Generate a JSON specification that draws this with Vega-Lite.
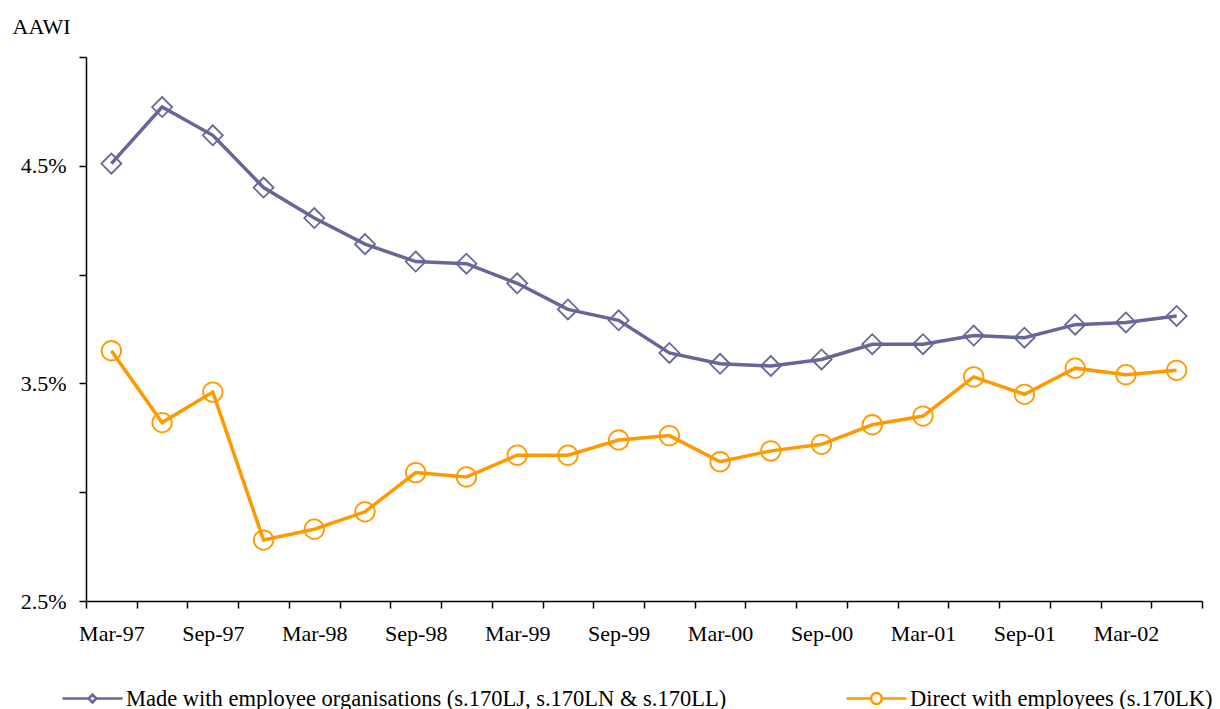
{
  "$schema": "https://vega.github.io/schema/vega-lite/v6.json",
  "width": 1116,
  "height": 544,
  "autosize": {"type": "none"},
  "padding": {"left": 86, "top": 57, "right": 18, "bottom": 108},
  "background": "white",
  "config": {
    "view": {"stroke": null},
    "font": "Liberation Serif",
    "axis": {
      "labelFont": "Liberation Serif",
      "labelFontSize": 22,
      "labelColor": "black",
      "titleFont": "Liberation Serif",
      "titleFontSize": 22,
      "titleFontWeight": "normal",
      "titleColor": "black",
      "domainColor": "black",
      "domainWidth": 1.5,
      "tickColor": "black",
      "tickWidth": 1.5,
      "tickSize": 7,
      "grid": false
    },
    "legend": {
      "labelFont": "Liberation Serif",
      "labelFontSize": 22.5,
      "labelColor": "black",
      "labelLimit": 1000
    }
  },
  "data": {
    "values": [
      {"q": "Mar-97", "s": "Made with employee organisations (s.170LJ, s.170LN & s.170LL)", "v": 4.51},
      {"q": "Jun-97", "s": "Made with employee organisations (s.170LJ, s.170LN & s.170LL)", "v": 4.77},
      {"q": "Sep-97", "s": "Made with employee organisations (s.170LJ, s.170LN & s.170LL)", "v": 4.64},
      {"q": "Dec-97", "s": "Made with employee organisations (s.170LJ, s.170LN & s.170LL)", "v": 4.40},
      {"q": "Mar-98", "s": "Made with employee organisations (s.170LJ, s.170LN & s.170LL)", "v": 4.26},
      {"q": "Jun-98", "s": "Made with employee organisations (s.170LJ, s.170LN & s.170LL)", "v": 4.14},
      {"q": "Sep-98", "s": "Made with employee organisations (s.170LJ, s.170LN & s.170LL)", "v": 4.06},
      {"q": "Dec-98", "s": "Made with employee organisations (s.170LJ, s.170LN & s.170LL)", "v": 4.05},
      {"q": "Mar-99", "s": "Made with employee organisations (s.170LJ, s.170LN & s.170LL)", "v": 3.96},
      {"q": "Jun-99", "s": "Made with employee organisations (s.170LJ, s.170LN & s.170LL)", "v": 3.84},
      {"q": "Sep-99", "s": "Made with employee organisations (s.170LJ, s.170LN & s.170LL)", "v": 3.79},
      {"q": "Dec-99", "s": "Made with employee organisations (s.170LJ, s.170LN & s.170LL)", "v": 3.64},
      {"q": "Mar-00", "s": "Made with employee organisations (s.170LJ, s.170LN & s.170LL)", "v": 3.59},
      {"q": "Jun-00", "s": "Made with employee organisations (s.170LJ, s.170LN & s.170LL)", "v": 3.58},
      {"q": "Sep-00", "s": "Made with employee organisations (s.170LJ, s.170LN & s.170LL)", "v": 3.61},
      {"q": "Dec-00", "s": "Made with employee organisations (s.170LJ, s.170LN & s.170LL)", "v": 3.68},
      {"q": "Mar-01", "s": "Made with employee organisations (s.170LJ, s.170LN & s.170LL)", "v": 3.68},
      {"q": "Jun-01", "s": "Made with employee organisations (s.170LJ, s.170LN & s.170LL)", "v": 3.72},
      {"q": "Sep-01", "s": "Made with employee organisations (s.170LJ, s.170LN & s.170LL)", "v": 3.71},
      {"q": "Dec-01", "s": "Made with employee organisations (s.170LJ, s.170LN & s.170LL)", "v": 3.77},
      {"q": "Mar-02", "s": "Made with employee organisations (s.170LJ, s.170LN & s.170LL)", "v": 3.78},
      {"q": "Jun-02", "s": "Made with employee organisations (s.170LJ, s.170LN & s.170LL)", "v": 3.81},
      {"q": "Mar-97", "s": "Direct with employees (s.170LK)", "v": 3.65},
      {"q": "Jun-97", "s": "Direct with employees (s.170LK)", "v": 3.32},
      {"q": "Sep-97", "s": "Direct with employees (s.170LK)", "v": 3.46},
      {"q": "Dec-97", "s": "Direct with employees (s.170LK)", "v": 2.78},
      {"q": "Mar-98", "s": "Direct with employees (s.170LK)", "v": 2.83},
      {"q": "Jun-98", "s": "Direct with employees (s.170LK)", "v": 2.91},
      {"q": "Sep-98", "s": "Direct with employees (s.170LK)", "v": 3.09},
      {"q": "Dec-98", "s": "Direct with employees (s.170LK)", "v": 3.07},
      {"q": "Mar-99", "s": "Direct with employees (s.170LK)", "v": 3.17},
      {"q": "Jun-99", "s": "Direct with employees (s.170LK)", "v": 3.17},
      {"q": "Sep-99", "s": "Direct with employees (s.170LK)", "v": 3.24},
      {"q": "Dec-99", "s": "Direct with employees (s.170LK)", "v": 3.26},
      {"q": "Mar-00", "s": "Direct with employees (s.170LK)", "v": 3.14},
      {"q": "Jun-00", "s": "Direct with employees (s.170LK)", "v": 3.19},
      {"q": "Sep-00", "s": "Direct with employees (s.170LK)", "v": 3.22},
      {"q": "Dec-00", "s": "Direct with employees (s.170LK)", "v": 3.31},
      {"q": "Mar-01", "s": "Direct with employees (s.170LK)", "v": 3.35},
      {"q": "Jun-01", "s": "Direct with employees (s.170LK)", "v": 3.53},
      {"q": "Sep-01", "s": "Direct with employees (s.170LK)", "v": 3.45},
      {"q": "Dec-01", "s": "Direct with employees (s.170LK)", "v": 3.57},
      {"q": "Mar-02", "s": "Direct with employees (s.170LK)", "v": 3.54},
      {"q": "Jun-02", "s": "Direct with employees (s.170LK)", "v": 3.56}
    ]
  },
  "encoding": {
    "x": {
      "field": "q",
      "type": "ordinal",
      "sort": null,
      "scale": {"type": "band", "paddingInner": 0, "paddingOuter": 0},
      "axis": {
        "title": null,
        "tickBand": "extent",
        "labelAngle": 0,
        "labelPadding": 15,
        "labelExpr": "test(/^(Mar|Sep)/, datum.value) ? datum.value : ''"
      }
    },
    "y": {
      "field": "v",
      "type": "quantitative",
      "scale": {"domain": [2.5, 5.0], "nice": false, "zero": false},
      "axis": {
        "title": "AAWI",
        "titleAngle": 0,
        "titleAlign": "left",
        "titleBaseline": "alphabetic",
        "titleX": -74,
        "titleY": -24,
        "values": [2.5, 3, 3.5, 4, 4.5, 5],
        "labelPadding": 13,
        "labelExpr": "(datum.value * 2) % 2 == 1 ? format(datum.value, '.1f') + '%' : ''"
      }
    }
  },
  "layer": [
    {
      "transform": [{"filter": "datum.s == 'Made with employee organisations (s.170LJ, s.170LN & s.170LL)'"}],
      "mark": {"type": "line", "strokeWidth": 3.5},
      "encoding": {
        "color": {
          "field": "s",
          "type": "nominal",
          "scale": {"range": ["#666699"]},
          "legend": {
            "orient": "none",
            "legendX": -25,
            "legendY": 610,
            "title": null,
            "padding": 0,
            "symbolType": "M-1,0H-0.13M0.13,0H1M0,-0.13L0.13,0L0,0.13L-0.13,0Z",
            "symbolSize": 3600,
            "symbolStrokeWidth": 2.5,
            "labelOffset": 2
          }
        }
      }
    },
    {
      "transform": [{"filter": "datum.s == 'Made with employee organisations (s.170LJ, s.170LN & s.170LL)'"}],
      "mark": {"type": "point", "shape": "diamond", "size": 400, "filled": false, "strokeWidth": 1.8, "color": "#666699", "opacity": 1}
    },
    {
      "transform": [{"filter": "datum.s == 'Direct with employees (s.170LK)'"}],
      "mark": {"type": "line", "strokeWidth": 3.5},
      "encoding": {
        "color": {
          "field": "s",
          "type": "nominal",
          "scale": {"range": ["#FF9900"]},
          "legend": {
            "orient": "none",
            "legendX": 759,
            "legendY": 610,
            "title": null,
            "padding": 0,
            "symbolType": "M-1,0H-0.18M0.18,0H1M-0.18,0A0.18,0.18,0,1,0,0.18,0A0.18,0.18,0,1,0,-0.18,0Z",
            "symbolSize": 3600,
            "symbolStrokeWidth": 2.5,
            "labelOffset": 2
          }
        }
      }
    },
    {
      "transform": [{"filter": "datum.s == 'Direct with employees (s.170LK)'"}],
      "mark": {"type": "point", "shape": "circle", "size": 380, "filled": false, "strokeWidth": 1.8, "color": "#FF9900", "opacity": 1}
    }
  ],
  "resolve": {"scale": {"color": "independent"}, "legend": {"color": "independent"}}
}
